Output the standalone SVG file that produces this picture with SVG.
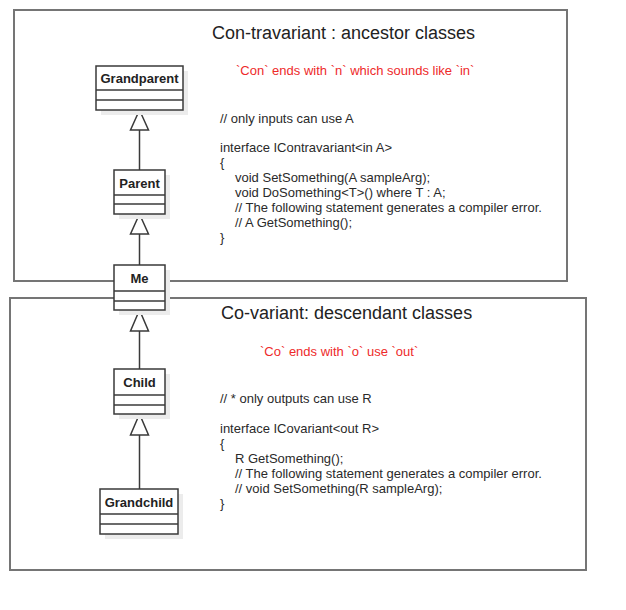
<svg xmlns="http://www.w3.org/2000/svg" width="626" height="610" viewBox="0 0 626 610">
<style>
.frame{fill:#ffffff;stroke:#757575;stroke-width:2}
.box{fill:#ffffff;stroke:#3a3a3a;stroke-width:1.5}
.shadow{fill:#ececec;stroke:none}
.sep{stroke:#3a3a3a;stroke-width:1.5;fill:none}
.name{font-family:"Liberation Sans",Arial,sans-serif;font-size:13px;font-weight:bold;fill:#222;text-anchor:middle}
.title{font-family:"Liberation Sans",Arial,sans-serif;font-size:18px;fill:#222}
.note{font-family:"Liberation Sans",Arial,sans-serif;font-size:13px;fill:#ee2a2a}
.code{font-family:"Liberation Sans",Arial,sans-serif;font-size:13px;fill:#2a2a2a}
.edge{stroke:#3a3a3a;stroke-width:1.5;fill:none}
.head{fill:#ffffff;stroke:#3a3a3a;stroke-width:1.5}
</style>
<rect width="626" height="610" fill="#ffffff"/>
<g id="contravariant">
<rect class="frame" x="14" y="10" width="553" height="271"/>
<text class="title" x="212" y="39">Con-travariant : ancestor classes</text>
<text class="note" x="236" y="75">`Con` ends with `n` which sounds like `in`</text>
<text class="code" x="220" y="122.5">// only inputs can use A</text>
<text class="code" x="220" y="152">interface IContravariant&lt;in A&gt;</text>
<text class="code" x="220" y="167">{</text>
<text class="code" x="235" y="182">void SetSomething(A sampleArg);</text>
<text class="code" x="235" y="197">void DoSomething&lt;T&gt;() where T : A;</text>
<text class="code" x="235" y="212">// The following statement generates a compiler error.</text>
<text class="code" x="235" y="227">// A GetSomething();</text>
<text class="code" x="220" y="242">}</text>
</g>
<g id="covariant">
<rect class="frame" x="10" y="298" width="576" height="272"/>
<text class="title" x="221" y="319">Co-variant: descendant classes</text>
<text class="note" x="260" y="355.5">`Co` ends with `o` use `out`</text>
<text class="code" x="220" y="402.5">// * only outputs can use R</text>
<text class="code" x="220" y="432.5">interface ICovariant&lt;out R&gt;</text>
<text class="code" x="220" y="447.5">{</text>
<text class="code" x="235" y="462.5">R GetSomething();</text>
<text class="code" x="235" y="477.5">// The following statement generates a compiler error.</text>
<text class="code" x="235" y="492.5">// void SetSomething(R sampleArg);</text>
<text class="code" x="220" y="507.5">}</text>
</g>
<g id="connectors">
<line class="edge" x1="139.5" y1="130" x2="139.5" y2="170"/>
<polygon class="head" points="139.5,110 130.5,130 148.5,130"/>
<line class="edge" x1="139.5" y1="234" x2="139.5" y2="265"/>
<polygon class="head" points="139.5,214 130.5,234 148.5,234"/>
<line class="edge" x1="139.5" y1="331" x2="139.5" y2="369"/>
<polygon class="head" points="139.5,310 130.5,331 148.5,331"/>
<line class="edge" x1="139.5" y1="435" x2="139.5" y2="489"/>
<polygon class="head" points="139.5,414 130.5,435 148.5,435"/>
</g>
<g id="grandparent">
<rect class="shadow" x="101" y="71" width="87" height="44"/>
<rect class="box" x="96" y="66" width="87" height="44"/>
<line class="sep" x1="96" y1="90" x2="183" y2="90"/>
<line class="sep" x1="96" y1="100" x2="183" y2="100"/>
<text class="name" x="139.5" y="83">Grandparent</text>
</g>
<g id="parent">
<rect class="shadow" x="119" y="175" width="51" height="44"/>
<rect class="box" x="114" y="170" width="51" height="44"/>
<line class="sep" x1="114" y1="195" x2="165" y2="195"/>
<line class="sep" x1="114" y1="204" x2="165" y2="204"/>
<text class="name" x="139.5" y="187.5">Parent</text>
</g>
<g id="me">
<rect class="shadow" x="119" y="270" width="51" height="45"/>
<rect class="box" x="114" y="265" width="51" height="45"/>
<line class="sep" x1="114" y1="291" x2="165" y2="291"/>
<line class="sep" x1="114" y1="301" x2="165" y2="301"/>
<text class="name" x="139.5" y="283">Me</text>
</g>
<g id="child">
<rect class="shadow" x="119" y="374" width="51" height="45"/>
<rect class="box" x="114" y="369" width="51" height="45"/>
<line class="sep" x1="114" y1="395" x2="165" y2="395"/>
<line class="sep" x1="114" y1="405" x2="165" y2="405"/>
<text class="name" x="139.5" y="387">Child</text>
</g>
<g id="grandchild">
<rect class="shadow" x="105" y="494" width="78" height="45"/>
<rect class="box" x="100" y="489" width="78" height="45"/>
<line class="sep" x1="100" y1="514" x2="178" y2="514"/>
<line class="sep" x1="100" y1="524" x2="178" y2="524"/>
<text class="name" x="139" y="506.5">Grandchild</text>
</g>
</svg>
